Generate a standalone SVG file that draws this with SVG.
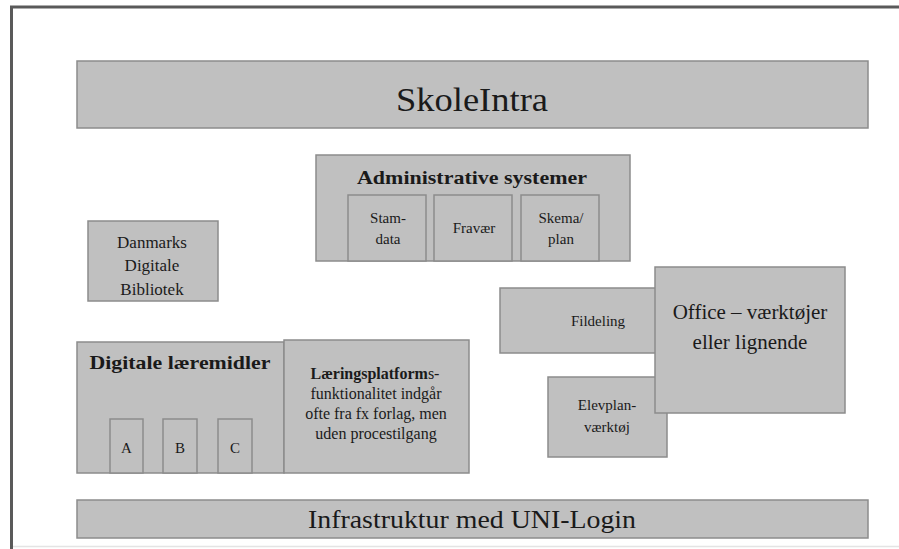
<svg xmlns="http://www.w3.org/2000/svg" width="899" height="549" viewBox="0 0 899 549">
<style>
.b{fill:#c0c0c0;stroke:#8c8c8c;stroke-width:1.5}
.t{font-family:"Liberation Serif","Times New Roman",serif;fill:#1a1a1a;text-anchor:middle}
.bd{font-weight:bold}
</style>
<rect width="899" height="549" fill="#ffffff"/>
<g id="frame">
<line x1="10" y1="7" x2="899" y2="7" stroke="#5a5a5a" stroke-width="3"/>
<line x1="11.5" y1="6" x2="11.5" y2="549" stroke="#5a5a5a" stroke-width="3"/>
<line x1="13" y1="546.5" x2="899" y2="546.5" stroke="#e4e4e4" stroke-width="1.5"/>
</g>
<g id="skoleintra">
<rect class="b" x="77" y="61" width="791" height="67"/>
<text class="t" x="472" y="111" font-size="34" textLength="152" lengthAdjust="spacingAndGlyphs">SkoleIntra</text>
</g>
<g id="administrative">
<rect class="b" x="316" y="155" width="314" height="106"/>
<text class="t bd" x="472" y="184" font-size="19" textLength="230" lengthAdjust="spacingAndGlyphs">Administrative systemer</text>
<g id="stamdata">
<rect class="b" x="348" y="195" width="78" height="66"/>
<text class="t" x="388" y="223" font-size="15">Stam-</text>
<text class="t" x="388" y="244" font-size="15">data</text>
</g>
<g id="fravaer">
<rect class="b" x="434" y="195" width="78" height="66"/>
<text class="t" x="474" y="233" font-size="15">Fravær</text>
</g>
<g id="skema">
<rect class="b" x="521" y="195" width="78" height="66"/>
<text class="t" x="561" y="223" font-size="15">Skema/</text>
<text class="t" x="561" y="244" font-size="15">plan</text>
</g>
</g>
<g id="ddb">
<rect class="b" x="88" y="221" width="130" height="80"/>
<text class="t" x="152" y="248" font-size="17">Danmarks</text>
<text class="t" x="152" y="271" font-size="17">Digitale</text>
<text class="t" x="152" y="295" font-size="17">Bibliotek</text>
</g>
<g id="digitale">
<rect class="b" x="77" y="342" width="207" height="131"/>
<text class="t bd" x="180" y="369" font-size="19" textLength="181" lengthAdjust="spacingAndGlyphs">Digitale læremidler</text>
<g id="a"><rect class="b" x="110" y="419" width="33" height="54"/><text class="t" x="126.5" y="453" font-size="15">A</text></g>
<g id="bb"><rect class="b" x="163" y="419" width="34" height="54"/><text class="t" x="180" y="453" font-size="15">B</text></g>
<g id="c"><rect class="b" x="218" y="419" width="34" height="54"/><text class="t" x="235" y="453" font-size="15">C</text></g>
</g>
<g id="laeringsplatform">
<rect class="b" x="284" y="340" width="185" height="133"/>
<text class="t" x="375" y="379" font-size="16"><tspan class="bd">Læringsplatform</tspan>s-</text>
<text class="t" x="376" y="399" font-size="16">funktionalitet indgår</text>
<text class="t" x="376" y="419" font-size="16">ofte fra fx forlag, men</text>
<text class="t" x="376" y="439" font-size="16">uden procestilgang</text>
</g>
<g id="fildeling">
<rect class="b" x="500" y="288" width="170" height="65"/>
<text class="t" x="598" y="326" font-size="15">Fildeling</text>
</g>
<g id="elevplan">
<rect class="b" x="548" y="377" width="119" height="80"/>
<text class="t" x="607" y="410" font-size="15">Elevplan-</text>
<text class="t" x="607" y="432" font-size="15">værktøj</text>
</g>
<g id="office">
<rect class="b" x="655" y="267" width="190" height="146"/>
<text class="t" x="750" y="319" font-size="21">Office – værktøjer</text>
<text class="t" x="750" y="349" font-size="21">eller lignende</text>
</g>
<g id="infrastruktur">
<rect class="b" x="77" y="500" width="791" height="38"/>
<text class="t" x="472" y="528" font-size="26" textLength="328" lengthAdjust="spacingAndGlyphs">Infrastruktur med UNI-Login</text>
</g>
<g id="connectors"/>
</svg>
